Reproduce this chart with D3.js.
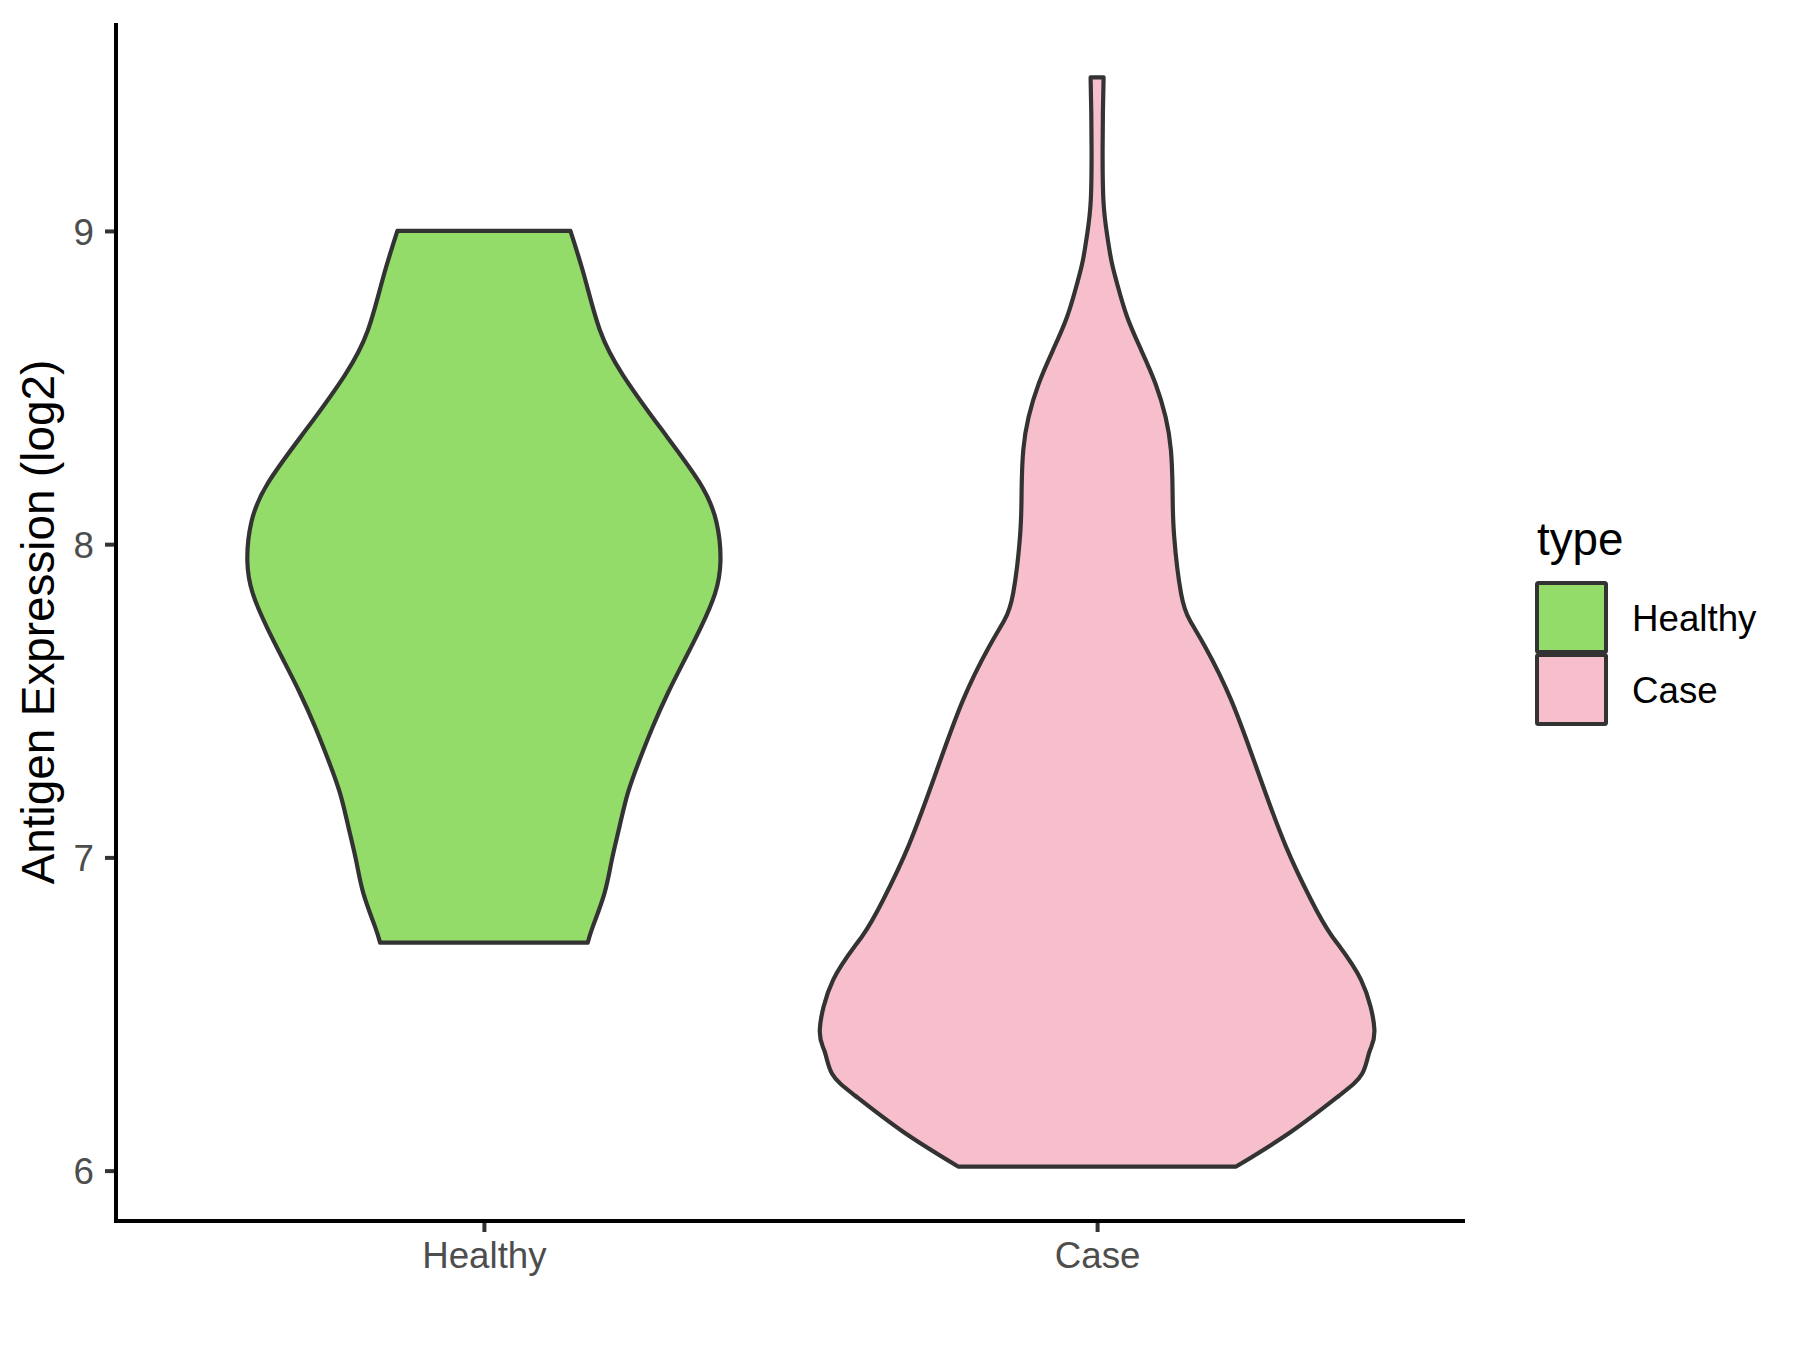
<!DOCTYPE html>
<html>
<head>
<meta charset="utf-8">
<script src="https://cdn.jsdelivr.net/npm/d3@7"></script>
<style>
  html, body { margin: 0; padding: 0; background: #ffffff; }
  svg { display: block; }
  text { font-family: "Liberation Sans", Arial, Helvetica, sans-serif; }
</style>
</head>
<body>
<svg id="chart" width="1800" height="1350"></svg>
<script>
// ---- Data ----
const categories = ["Healthy", "Case"];
const fillColors = ["#93DC6A", "#F7BFCB"];
const yTicks = [6, 7, 8, 9];
const yTitle = "Antigen Expression (log2)";
const legendTitle = "type";

// violin outlines: expression value and half-width (in category units)
const healthyValue = [9.000, 8.853, 8.683, 8.540, 8.369, 8.198, 8.070, 7.947, 7.843, 7.736, 7.630, 7.524, 7.417, 7.311, 7.205, 7.098, 6.992, 6.886, 6.779, 6.728];
const healthyHalfWidth = [0.1411, 0.1641, 0.1892, 0.2267, 0.2887, 0.3513, 0.3793, 0.3858, 0.3770, 0.3542, 0.3271, 0.2999, 0.2754, 0.2538, 0.2347, 0.2211, 0.2086, 0.1967, 0.1776, 0.1693];

const caseValue = [9.490, 9.380, 9.257, 9.098, 8.992, 8.906, 8.832, 8.726, 8.619, 8.513, 8.406, 8.300, 8.170, 8.027, 7.842, 7.756, 7.671, 7.503, 7.278, 7.036, 6.864, 6.750, 6.609, 6.451, 6.381, 6.309, 6.239, 6.124, 6.013];
const caseHalfWidth = [0.0106, 0.0095, 0.0090, 0.0103, 0.0160, 0.0232, 0.0326, 0.0489, 0.0721, 0.0951, 0.1117, 0.1204, 0.1231, 0.1256, 0.1370, 0.1515, 0.1766, 0.2185, 0.2614, 0.3077, 0.3490, 0.3826, 0.4304, 0.4522, 0.4444, 0.4322, 0.3945, 0.3164, 0.2267];

const violins = [
  { name: categories[0], fill: fillColors[0], pts: healthyValue.map((v, i) => ({ v, w: healthyHalfWidth[i] })) },
  { name: categories[1], fill: fillColors[1], pts: caseValue.map((v, i) => ({ v, w: caseHalfWidth[i] })) }
];

// ---- Layout ----
const panel = { left: 116, right: 1465, top: 23, bottom: 1221 };
const svg = d3.select("#chart");

const allVals = healthyValue.concat(caseValue);
const vmin = d3.min(allVals), vmax = d3.max(allVals);
const pad = (vmax - vmin) * 0.05;

const y = d3.scaleLinear().domain([vmin - pad, vmax + pad]).range([panel.bottom, panel.top]);
const x = d3.scalePoint().domain(categories).range([panel.left, panel.right]).padding(0.6);
const step = x.step();

const outline = "#333333";

// ---- Violins ----
const area = d3.area()
  .y(d => y(d.v))
  .curve(d3.curveNatural);

violins.forEach(vl => {
  const cx = x(vl.name);
  area.x0(d => cx - d.w * step).x1(d => cx + d.w * step);
  svg.append("path")
    .attr("d", area(vl.pts))
    .attr("fill", vl.fill)
    .attr("stroke", outline)
    .attr("stroke-width", 4.2)
    .attr("stroke-linejoin", "round");
});

// ---- Axes ----
const yAxis = d3.axisLeft(y).tickValues(yTicks).tickSize(11).tickPadding(11).tickFormat(d3.format("d"));
const gy = svg.append("g").attr("transform", `translate(${panel.left},0)`).call(yAxis);
gy.select(".domain").remove();
gy.selectAll(".tick line").attr("stroke", outline).attr("stroke-width", 4);
gy.selectAll(".tick text").attr("fill", "#4D4D4D").attr("font-size", 36.7).attr("dy", "0.36em");

const xAxis = d3.axisBottom(x).tickSize(11).tickPadding(10);
const gx = svg.append("g").attr("transform", `translate(0,${panel.bottom})`).call(xAxis);
gx.select(".domain").remove();
gx.selectAll(".tick line").attr("stroke", outline).attr("stroke-width", 4);
gx.selectAll(".tick text").attr("fill", "#4D4D4D").attr("font-size", 36.7).attr("dy", "0.72em");

// axis lines
svg.append("path")
  .attr("d", `M${panel.left},${panel.top}V${panel.bottom}H${panel.right}`)
  .attr("fill", "none")
  .attr("stroke", "#000")
  .attr("stroke-width", 4)
  .attr("stroke-linecap", "butt")
  .attr("stroke-linejoin", "miter");

// y title
svg.append("text")
  .attr("transform", `translate(54,${(panel.top + panel.bottom) / 2}) rotate(-90)`)
  .attr("text-anchor", "middle")
  .attr("font-size", 45.8)
  .attr("fill", "#000")
  .text(yTitle);

// ---- Legend ----
const leg = svg.append("g").attr("transform", "translate(1537,0)");
leg.append("text")
  .attr("x", 0).attr("y", 555)
  .attr("font-size", 45.8)
  .attr("fill", "#000")
  .text(legendTitle);

categories.forEach((c, i) => {
  const ky = 583 + i * 72;
  leg.append("rect")
    .attr("x", 0).attr("y", ky)
    .attr("width", 69).attr("height", 69)
    .attr("rx", 1.5)
    .attr("fill", fillColors[i])
    .attr("stroke", outline)
    .attr("stroke-width", 4);
  leg.append("text")
    .attr("x", 95).attr("y", ky + 34.5)
    .attr("dy", "0.36em")
    .attr("font-size", 36.7)
    .attr("fill", "#000")
    .text(c);
});
</script>
</body>
</html>
